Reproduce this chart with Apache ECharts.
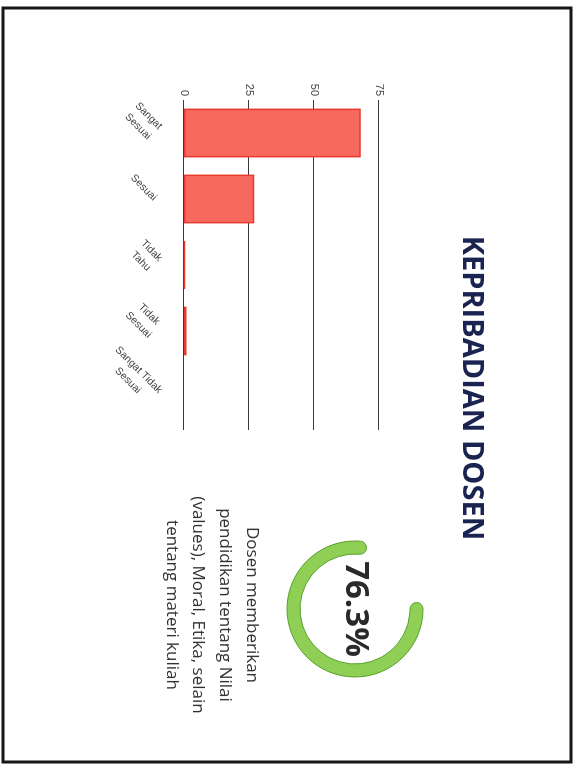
<!DOCTYPE html>
<html>
<head>
<meta charset="utf-8">
<script src="https://cdn.jsdelivr.net/npm/echarts@6/dist/echarts.min.js"></script>
<style>
  html, body { margin: 0; padding: 0; background: #ffffff; width: 578px; height: 767px; overflow: hidden; }
  #chart { position: absolute; left: 0; top: 0; width: 767px; height: 578px;
           transform-origin: 0 0; transform: translateX(578px) rotate(90deg); }
</style>
</head>
<body>
<div id="chart"></div>
<script>
// ---- data ----
const categories = ['Sangat\nSesuai', 'Sesuai', 'Tidak\nTahu', 'Tidak\nSesuai', 'Sangat Tidak\nSesuai'];
const counts = [68, 27, 0.3, 1, 0];
const valueTicks = [0, 25, 50, 75];
const titleText = 'KEPRIBADIAN DOSEN';
const scoreValue = [76.3];
const descriptionLines = ['Dosen memberikan', 'pendidikan tentang Nilai', '(values), Moral, Etika, selain', 'tentang materi kuliah'];

const chart = echarts.init(document.getElementById('chart'), null, { renderer: 'canvas' });

chart.setOption({
  animation: false,
  backgroundColor: '#ffffff',
  grid: { left: 100, width: 330, top: 199, height: 195, containLabel: false },
  xAxis: {
    type: 'category',
    data: categories,
    axisLine: { show: false },
    axisTick: { show: false },
    axisLabel: {
      rotate: 45, interval: 0, margin: 29,
      color: '#444',
      formatter: v => v.split('\n').map(l => '{c|' + l + '}').join('\n'),
      rich: { c: { align: 'center', fontSize: 10.5, lineHeight: 15, color: '#444',
                   fontFamily: '"Liberation Sans", sans-serif' } }
    }
  },
  yAxis: {
    type: 'value',
    min: valueTicks[0], max: valueTicks[valueTicks.length - 1], interval: 25,
    axisLine: { show: false },
    axisTick: { show: false },
    axisLabel: { margin: 4, fontSize: 11, color: '#444', fontFamily: '"Liberation Sans", sans-serif' },
    splitLine: { show: true, lineStyle: { color: '#3a3a3a', width: 1 } }
  },
  series: [
    {
      type: 'bar',
      data: counts.map(v => ({ value: v, itemStyle: v === 0 ? { borderWidth: 0 } : undefined })),
      barCategoryGap: '26%',
      itemStyle: { color: '#f7695f', borderColor: '#ea3a2e', borderWidth: 1.5 }
    },
    {
      type: 'gauge',
      center: [609, 223],
      radius: 68,
      startAngle: 90,
      endAngle: -270,
      min: 0, max: 100,
      data: scoreValue.map(v => ({ value: v })),
      progress: { show: true, width: 13, roundCap: true,
        itemStyle: { color: '#90cf55', borderColor: '#55a026', borderWidth: 1 } },
      axisLine: { roundCap: true, lineStyle: { width: 13, color: [[1, 'rgba(0,0,0,0)']] } },
      pointer: { show: false },
      anchor: { show: false },
      axisTick: { show: false },
      splitLine: { show: false },
      axisLabel: { show: false },
      title: { show: false },
      detail: {
        formatter: '{value}%', offsetCenter: [0, 0],
        fontSize: 33, fontWeight: 'bold', color: '#2a2a2a',
        fontFamily: '"Open Sans", sans-serif'
      }
    }
  ],
  graphic: [
    {
      type: 'rect', silent: true,
      shape: { x: 8, y: 7, width: 754, height: 568 },
      style: { fill: 'none', stroke: '#161616', lineWidth: 3 }
    },
    {
      type: 'text', silent: true,
      x: 388, y: 107,
      style: {
        text: titleText, textAlign: 'center', textVerticalAlign: 'middle',
        font: 'bold 29px "Open Sans", sans-serif', fill: '#1b2450'
      }
    },
    {
      type: 'text', silent: true,
      x: 605, y: 313,
      style: {
        text: descriptionLines.join('\n'), textAlign: 'center', textVerticalAlign: 'top',
        font: '17px "Open Sans", sans-serif', lineHeight: 26.7, fill: '#333333'
      }
    }
  ]
});
</script>
</body>
</html>
